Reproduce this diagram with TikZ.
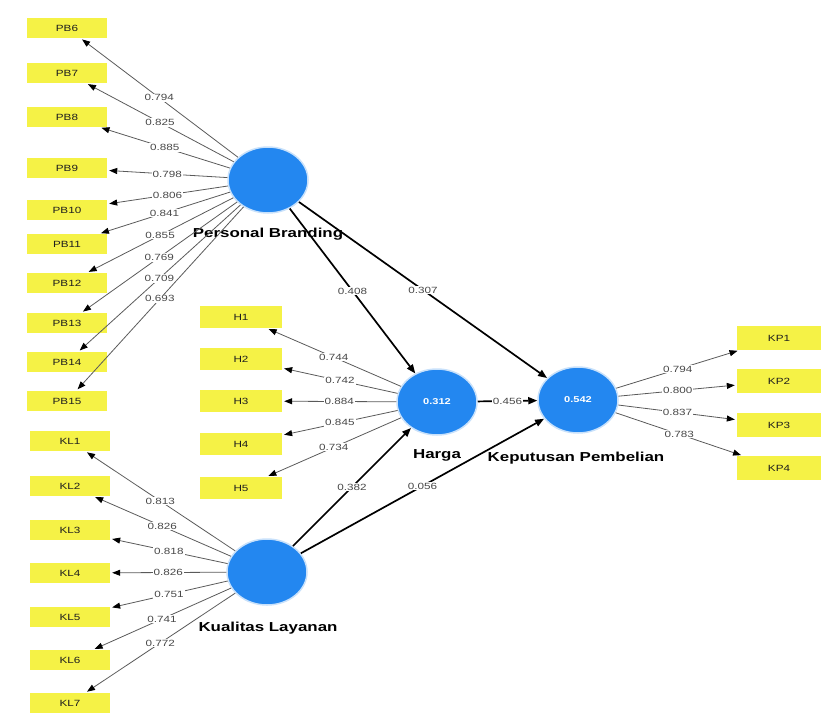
\documentclass[tikz,border=0pt]{standalone}
\usepackage{fontspec}
\setmainfont{Liberation Sans}
\newfontfamily\wide[FakeStretch=1.3]{Liberation Sans}
\usetikzlibrary{arrows.meta,shapes.geometric}
\definecolor{plsblue}{RGB}{35,135,240}
\definecolor{plsyellow}{RGB}{245,242,70}
\definecolor{ink}{RGB}{30,30,30}
\definecolor{wire}{RGB}{90,90,90}
\tikzset{
  latent/.style = {ellipse, fill=plsblue, draw=plsblue!25, line width=1.5pt,
                   minimum width=80pt, minimum height=66pt, inner sep=0pt,
                   text=white, font=\wide\fontsize{8.5}{9}\selectfont\bfseries},
  item/.style   = {fill=plsyellow, text=ink, minimum width=80pt, minimum height=20pt,
                   inner sep=0pt, font=\wide\fontsize{9}{9}\selectfont},
  load/.style   = {draw=wire, line width=0.8pt, shorten >=2pt,
                   -{Triangle[length=8pt,width=6pt,color=black]}},
  struct/.style = {draw=black, line width=1.7pt,
                   -{Triangle[length=9pt,width=7pt]}},
  val/.style    = {fill=white, inner sep=1pt, text=wire!80!black,
                   font=\wide\fontsize{9}{9}\selectfont},
  title/.style  = {text=black, font=\wide\fontsize{13}{13}\selectfont\bfseries},
}

\begin{document}
\begin{tikzpicture}[x=1pt, y=-1pt]
\useasboundingbox (0,0) rectangle (827,718);
% latent variables
\node[latent] (pb) at (268,180) {};
\node[latent] (kl) at (267,572) {};
\node[latent] (harga) at (437,402) {0.312};
\node[latent] (kp) at (578,400) {0.542};
\node[title] (pbname) at (268,234) {Personal Branding};
\node[title] (klname) at (268,628) {Kualitas Layanan};
\node[title] (harganame) at (437,455) {Harga};
\node[title] (kpname) at (576,458) {Keputusan Pembelian};

% indicators of Personal Branding
\node[item] (pb6) at (67,28) {PB6};
\node[item] (pb7) at (67,73) {PB7};
\node[item] (pb8) at (67,117) {PB8};
\node[item] (pb9) at (67,168) {PB9};
\node[item] (pb10) at (67,210) {PB10};
\node[item] (pb11) at (67,244) {PB11};
\node[item] (pb12) at (67,283) {PB12};
\node[item] (pb13) at (67,323) {PB13};
\node[item] (pb14) at (67,362) {PB14};
\node[item] (pb15) at (67,401) {PB15};
% indicators of Kualitas Layanan
\node[item] (kl1) at (70,441) {KL1};
\node[item] (kl2) at (70,486) {KL2};
\node[item] (kl3) at (70,530) {KL3};
\node[item] (kl4) at (70,573) {KL4};
\node[item] (kl5) at (70,617) {KL5};
\node[item] (kl6) at (70,660) {KL6};
\node[item] (kl7) at (70,703) {KL7};
% indicators of Harga
\node[item, minimum width=82pt, minimum height=22pt] (h1) at (241,317) {H1};
\node[item, minimum width=82pt, minimum height=22pt] (h2) at (241,359) {H2};
\node[item, minimum width=82pt, minimum height=22pt] (h3) at (241,401) {H3};
\node[item, minimum width=82pt, minimum height=22pt] (h4) at (241,444) {H4};
\node[item, minimum width=82pt, minimum height=22pt] (h5) at (241,488) {H5};
% indicators of Keputusan Pembelian
\node[item, minimum width=84pt, minimum height=24pt] (kp1) at (779,338) {KP1};
\node[item, minimum width=84pt, minimum height=24pt] (kp2) at (779,381) {KP2};
\node[item, minimum width=84pt, minimum height=24pt] (kp3) at (779,425) {KP3};
\node[item, minimum width=84pt, minimum height=24pt] (kp4) at (779,468) {KP4};

% outer loadings
\draw[load] (pb) -- node[val] {0.794} (pb6);
\draw[load] (pb) -- node[val] {0.825} (pb7);
\draw[load] (pb) -- node[val] {0.885} (pb8);
\draw[load] (pb) -- node[val] {0.798} (pb9);
\draw[load] (pb) -- node[val] {0.806} (pb10);
\draw[load] (pb) -- node[val] {0.841} (pb11);
\draw[load] (pb) -- node[val] {0.855} (pb12);
\draw[load] (pb) -- node[val] {0.769} (pb13);
\draw[load] (pb) -- node[val] {0.709} (pb14);
\draw[load] (pb) -- node[val] {0.693} (pb15);
\draw[load] (kl) -- node[val] {0.813} (kl1);
\draw[load] (kl) -- node[val] {0.826} (kl2);
\draw[load] (kl) -- node[val] {0.818} (kl3);
\draw[load] (kl) -- node[val] {0.826} (kl4);
\draw[load] (kl) -- node[val] {0.751} (kl5);
\draw[load] (kl) -- node[val] {0.741} (kl6);
\draw[load] (kl) -- node[val] {0.772} (kl7);
\draw[load] (harga) -- node[val] {0.744} (h1);
\draw[load] (harga) -- node[val] {0.742} (h2);
\draw[load] (harga) -- node[val] {0.884} (h3);
\draw[load] (harga) -- node[val] {0.845} (h4);
\draw[load] (harga) -- node[val] {0.734} (h5);
\draw[load] (kp) -- node[val] {0.794} (kp1);
\draw[load] (kp) -- node[val] {0.800} (kp2);
\draw[load] (kp) -- node[val] {0.837} (kp3);
\draw[load] (kp) -- node[val] {0.783} (kp4);

% path coefficients
\draw[struct] (pb) -- node[val] {0.408} (harga);
\draw[struct] (pb) -- node[val] {0.307} (kp);
\draw[struct] (kl) -- node[val] {0.382} (harga);
\draw[struct] (kl) -- node[val] {0.056} (kp);
\draw[struct] (harga) -- node[val] {0.456} (kp);
\end{tikzpicture}
\end{document}
